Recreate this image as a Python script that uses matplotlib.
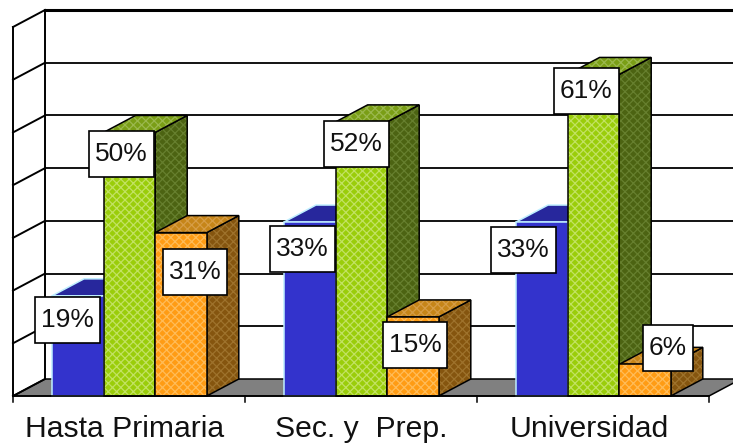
import matplotlib
matplotlib.use('Agg')
import matplotlib.pyplot as plt
from matplotlib.patches import Polygon
from matplotlib.path import Path

plt.rcParams['font.family'] = ['Liberation Sans', 'DejaVu Sans']
plt.rcParams['hatch.linewidth'] = 0.9

categories = ['Hasta Primaria', 'Sec. y  Prep.', 'Universidad']
blue_vals = [19, 33, 33]
green_vals = [50, 52, 61]
orange_vals = [31, 15, 6]
y_ticks = [0, 10, 20, 30, 40, 50, 60, 70]

# label nudges in pixels from bar front-top centre (one per bar)
blue_nudge = [(-10, -24), (-7, -27), (-18, -28)]
green_nudge = [(-8, -22), (-5, -22), (-7, -17)]
orange_nudge = [(14, -39), (2, -28), (23, 16)]
cat_nudge = [-4, 0, -4]

# name: front, front hatch, top, top hatch, side, side hatch
styles = {
    'blue': ('#3333CC', None, '#27279C', None, '#1E1E7A', None),
    'green': ('#9ACD0A', '#C2E262', '#7A9E16', '#9BB84E', '#4C6312', '#667F2E'),
    'orange': ('#FF9C14', '#FFBC58', '#C68518', '#D69D46', '#85550F', '#9E722C'),
}
hatch_style = 'xxxx'
blue_edge = '#BFEFFF'

# 3d depth of the box, in axis units
depth_x = 32 / 232
depth_y = 17 / 369 * 70
bar_w = 51.6 / 232
bar_start = 39 / 232

fig = plt.figure(figsize=(7.33, 4.43), dpi=100)
ax = fig.add_axes([13 / 733, 47 / 443, 696 / 733, 369 / 443])
ax.set_xlim(0, 3)
ax.set_ylim(0, 70)
ax.axis('off')


def line(xs, ys, lw=1.2, z=2, color='black'):
    ax.plot(xs, ys, color=color, lw=lw, zorder=z, clip_on=False, solid_capstyle='projecting')


def face(pts, color, hatch, z, edge='black'):
    if hatch:
        ax.add_patch(Polygon(pts, closed=True, facecolor=color, edgecolor=hatch, hatch=hatch_style,
                             lw=0, zorder=z, clip_on=False))
    else:
        ax.add_patch(Polygon(pts, closed=True, facecolor=color, edgecolor='none', zorder=z, clip_on=False))
    ax.add_patch(Polygon(pts, closed=True, fill=False, edgecolor=edge, lw=1.1, zorder=z + 0.1, clip_on=False))


def draw_bar(x, val, style, z):
    front, front_h, top, top_h, side, side_h = styles[style]
    r = x + bar_w
    edge = blue_edge if style == 'blue' else 'black'
    face([(r, 0), (r + depth_x, depth_y), (r + depth_x, val + depth_y), (r, val)], side, side_h, z, edge)
    face([(x, val), (x + depth_x, val + depth_y), (r + depth_x, val + depth_y), (r, val)], top, top_h, z + 0.2, edge)
    if front_h:
        ax.bar(x, val, bar_w, align='edge', color=front, edgecolor=front_h, hatch=hatch_style, lw=0,
               zorder=z + 0.4, clip_on=False)
        ax.bar(x, val, bar_w, align='edge', fill=False, edgecolor='black', lw=1.1, zorder=z + 0.5, clip_on=False)
    else:
        ax.bar(x, val, bar_w, align='edge', color=front, edgecolor=edge, lw=1.1, zorder=z + 0.4, clip_on=False)


def label_box(x0, y0, width, height, mutation_size):
    # fixed pixel padding, taller than the default square pad allows
    pad_x = 6
    pad_y = (46 - height) / 2
    x1, y1 = x0 + width + pad_x, y0 + height + pad_y
    x0, y0 = x0 - pad_x, y0 - pad_y
    return Path([(x0, y0), (x1, y0), (x1, y1), (x0, y1), (x0, y0)],
                [Path.MOVETO, Path.LINETO, Path.LINETO, Path.LINETO, Path.CLOSEPOLY])


# floor
floor = [(0, 0), (depth_x, depth_y), (3 + depth_x, depth_y), (3, 0)]
ax.add_patch(Polygon(floor, closed=True, facecolor='#808080', edgecolor='black', lw=1.1, zorder=1, clip_on=False))

# walls and gridlines
for v in y_ticks:
    if v > 0:
        w = 2.2 if v == y_ticks[-1] else 1.3
        line([depth_x, 3 + depth_x], [v + depth_y, v + depth_y], lw=w)
    line([0, depth_x], [v, v + depth_y], lw=1.4)
line([0, 0], [0, 70], lw=1.4)
line([depth_x, depth_x], [depth_y, 70 + depth_y], lw=1.4)

# bars, back to front
z = 5
for i in range(3):
    draw_bar(i + bar_start, blue_vals[i], 'blue', z)
    draw_bar(i + bar_start + bar_w, green_vals[i], 'green', z + 1)
    draw_bar(i + bar_start + 2 * bar_w, orange_vals[i], 'orange', z + 2)
    z += 3

# baseline ticks
line([0, 3], [0, 0], lw=1.2, z=30)
for t in range(4):
    ax.plot([t, t], [0, -1.1], color='black', lw=1.1, clip_on=False, zorder=3)

# boxed value labels
box = dict(boxstyle=label_box, facecolor='white', edgecolor='black', lw=1.2)
for i in range(3):
    series = [(blue_vals, blue_nudge), (green_vals, green_nudge), (orange_vals, orange_nudge)]
    for j, (vals, nudge) in enumerate(series):
        xc = i + bar_start + (j + 0.5) * bar_w
        ax.annotate(f'{vals[i]}%', (xc, vals[i]), xytext=nudge[i], textcoords='offset pixels',
                    ha='center', va='center', fontsize=19, color='#111111', bbox=box, zorder=40,
                    annotation_clip=False)

# category labels
for i, name in enumerate(categories):
    ax.annotate(name, (i + 0.5, 0), xytext=(cat_nudge[i], -41), textcoords='offset pixels',
                ha='center', va='baseline', fontsize=21.7, color='#111111', annotation_clip=False)

fig.savefig('out.png', dpi=100)
